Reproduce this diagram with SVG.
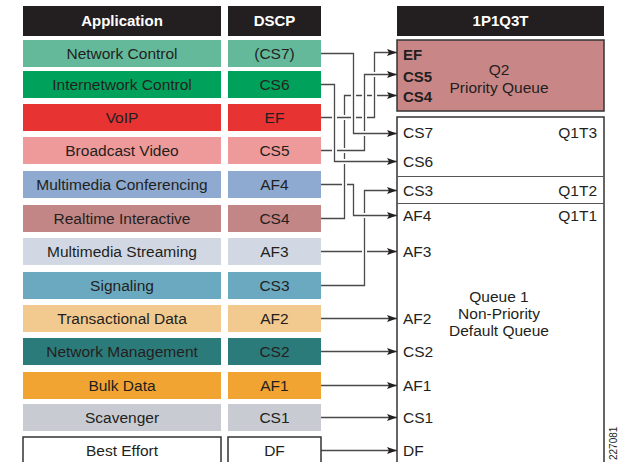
<svg xmlns="http://www.w3.org/2000/svg" width="620" height="462" viewBox="0 0 620 462">
<style>
text{font-family:"Liberation Sans",Arial,sans-serif;font-size:15.5px;fill:#231f20}
.hd{fill:#231f20}
.ht{fill:#fff;font-weight:bold;text-anchor:middle;font-size:15px}
.c{text-anchor:middle}
.b{font-weight:bold;font-size:15px}
.r{text-anchor:end}
.halo{fill:none;stroke:#fff;stroke-width:5;stroke-linejoin:miter}
.ln{fill:none;stroke:#4a4a4a;stroke-width:1.3;marker-end:url(#ah)}
.q{stroke:#333;stroke-width:1.5}
.wb{fill:#fff;stroke:#333;stroke-width:1.5}
.div{stroke:#555;stroke-width:1}
</style>
<defs>
<marker id="ah" markerUnits="userSpaceOnUse" markerWidth="10" markerHeight="8" refX="10" refY="4" orient="auto">
<path d="M0,0.5 L10,4 L0,7.5 L2,4 z" fill="#231f20"/>
</marker>
</defs>
<rect width="620" height="462" fill="#fff"/>

<g id="connectors">
<g id="e-af3"><path class="halo" d="M321,251.5 H397"/><path class="ln" d="M321,251.5 H397"/></g>
<g id="e-cs3"><path class="halo" d="M321,285.5 H364.5 V190.5 H397"/><path class="ln" d="M321,285.5 H364.5 V190.5 H397"/></g>
<g id="e-af4"><path class="halo" d="M321,184.5 H353.5 V215.5 H397"/><path class="ln" d="M321,184.5 H353.5 V215.5 H397"/></g>
<g id="e-cs4"><path class="halo" d="M321,218.5 H344.5 V95.5 H397"/><path class="ln" d="M321,218.5 H344.5 V95.5 H397"/></g>
<g id="e-ef"><path class="halo" d="M321,117.5 H374.5 V52.5 H397"/><path class="ln" d="M321,117.5 H374.5 V52.5 H397"/></g>
<g id="e-cs5"><path class="halo" d="M321,150.5 H364.5 V74.5 H397"/><path class="ln" d="M321,150.5 H364.5 V74.5 H397"/></g>
<g id="e-cs6"><path class="halo" d="M321,84.5 H334.5 V161.5 H397"/><path class="ln" d="M321,84.5 H334.5 V161.5 H397"/></g>
<g id="e-cs7"><path class="halo" d="M321,53.5 H353.5 V133.5 H397"/><path class="ln" d="M321,53.5 H353.5 V133.5 H397"/></g>
<g id="e-af2"><path class="ln" d="M321,318.5 H397"/></g>
<g id="e-cs2"><path class="ln" d="M321,351.5 H397"/></g>
<g id="e-af1"><path class="ln" d="M321,385.5 H397"/></g>
<g id="e-cs1"><path class="ln" d="M321,417.5 H397"/></g>
<g id="e-df"><path class="ln" d="M321,450.5 H397"/></g>
</g>

<g id="header-application"><rect class="hd" x="23" y="6" width="198" height="30"/><text class="ht" x="122" y="26">Application</text></g>
<g id="header-dscp"><rect class="hd" x="228" y="6" width="93" height="30"/><text class="ht" x="274.5" y="26">DSCP</text></g>
<g id="header-queue"><rect class="hd" x="397" y="6" width="207" height="30"/><text class="ht" x="500.5" y="26">1P1Q3T</text></g>

<g id="row-network-control"><rect x="23" y="40" width="198" height="27" fill="#64b99b"/><rect x="228" y="40" width="93" height="27" fill="#64b99b"/><text class="c" x="122" y="59">Network Control</text><text class="c" x="274.5" y="59">(CS7)</text></g>
<g id="row-internetwork-control"><rect x="23" y="71" width="198" height="27" fill="#00a25b"/><rect x="228" y="71" width="93" height="27" fill="#00a25b"/><text class="c" x="122" y="90">Internetwork Control</text><text class="c" x="274.5" y="90">CS6</text></g>
<g id="row-voip"><rect x="23" y="104" width="198" height="27" fill="#e83333"/><rect x="228" y="104" width="93" height="27" fill="#e83333"/><text class="c" x="122" y="123">VoIP</text><text class="c" x="274.5" y="123">EF</text></g>
<g id="row-broadcast-video"><rect x="23" y="137" width="198" height="27" fill="#ef9a9a"/><rect x="228" y="137" width="93" height="27" fill="#ef9a9a"/><text class="c" x="122" y="156">Broadcast Video</text><text class="c" x="274.5" y="156">CS5</text></g>
<g id="row-multimedia-conferencing"><rect x="23" y="171" width="198" height="27" fill="#8eaad0"/><rect x="228" y="171" width="93" height="27" fill="#8eaad0"/><text class="c" x="122" y="190">Multimedia Conferencing</text><text class="c" x="274.5" y="190">AF4</text></g>
<g id="row-realtime-interactive"><rect x="23" y="205" width="198" height="27" fill="#c38686"/><rect x="228" y="205" width="93" height="27" fill="#c38686"/><text class="c" x="122" y="224">Realtime Interactive</text><text class="c" x="274.5" y="224">CS4</text></g>
<g id="row-multimedia-streaming"><rect x="23" y="238" width="198" height="27" fill="#d1d8e3"/><rect x="228" y="238" width="93" height="27" fill="#d1d8e3"/><text class="c" x="122" y="257">Multimedia Streaming</text><text class="c" x="274.5" y="257">AF3</text></g>
<g id="row-signaling"><rect x="23" y="272" width="198" height="27" fill="#6aa9c0"/><rect x="228" y="272" width="93" height="27" fill="#6aa9c0"/><text class="c" x="122" y="291">Signaling</text><text class="c" x="274.5" y="291">CS3</text></g>
<g id="row-transactional-data"><rect x="23" y="305" width="198" height="27" fill="#f2ca8f"/><rect x="228" y="305" width="93" height="27" fill="#f2ca8f"/><text class="c" x="122" y="324">Transactional Data</text><text class="c" x="274.5" y="324">AF2</text></g>
<g id="row-network-management"><rect x="23" y="338" width="198" height="27" fill="#2c7b7b"/><rect x="228" y="338" width="93" height="27" fill="#2c7b7b"/><text class="c" x="122" y="357">Network Management</text><text class="c" x="274.5" y="357">CS2</text></g>
<g id="row-bulk-data"><rect x="23" y="372" width="198" height="27" fill="#f1a432"/><rect x="228" y="372" width="93" height="27" fill="#f1a432"/><text class="c" x="122" y="391">Bulk Data</text><text class="c" x="274.5" y="391">AF1</text></g>
<g id="row-scavenger"><rect x="23" y="404" width="198" height="27" fill="#c8cbd2"/><rect x="228" y="404" width="93" height="27" fill="#c8cbd2"/><text class="c" x="122" y="423">Scavenger</text><text class="c" x="274.5" y="423">CS1</text></g>
<g id="row-best-effort"><rect class="wb" x="23" y="437" width="198" height="40"/><rect class="wb" x="228" y="437" width="93" height="40"/><text class="c" x="122" y="456">Best Effort</text><text class="c" x="274.5" y="456">DF</text></g>

<g id="q2-priority-queue">
<rect class="q" x="397" y="40" width="207" height="71" fill="#c98686"/>
<text class="b" x="403" y="60">EF</text>
<text class="b" x="403" y="82">CS5</text>
<text class="b" x="403" y="102">CS4</text>
<text class="c" x="499" y="75">Q2</text>
<text class="c" x="499" y="93">Priority Queue</text>
</g>

<g id="queue1">
<rect class="q" x="397" y="117" width="207" height="360" fill="#fff"/>
<line class="div" x1="397" y1="176.5" x2="604" y2="176.5"/>
<line class="div" x1="397" y1="203.5" x2="604" y2="203.5"/>
<text x="403" y="138">CS7</text>
<text x="403" y="167">CS6</text>
<text x="403" y="196">CS3</text>
<text x="403" y="221">AF4</text>
<text x="403" y="257">AF3</text>
<text x="403" y="324">AF2</text>
<text x="403" y="357">CS2</text>
<text x="403" y="391">AF1</text>
<text x="403" y="423">CS1</text>
<text x="403" y="456">DF</text>
<text class="r" x="597" y="138">Q1T3</text>
<text class="r" x="597" y="196">Q1T2</text>
<text class="r" x="597" y="221">Q1T1</text>
<text class="c" x="499" y="302">Queue 1</text>
<text class="c" x="499" y="319">Non-Priority</text>
<text class="c" x="499" y="336">Default Queue</text>
</g>

<text transform="translate(617,460) rotate(-90)" style="font-size:10px">227081</text>
</svg>
